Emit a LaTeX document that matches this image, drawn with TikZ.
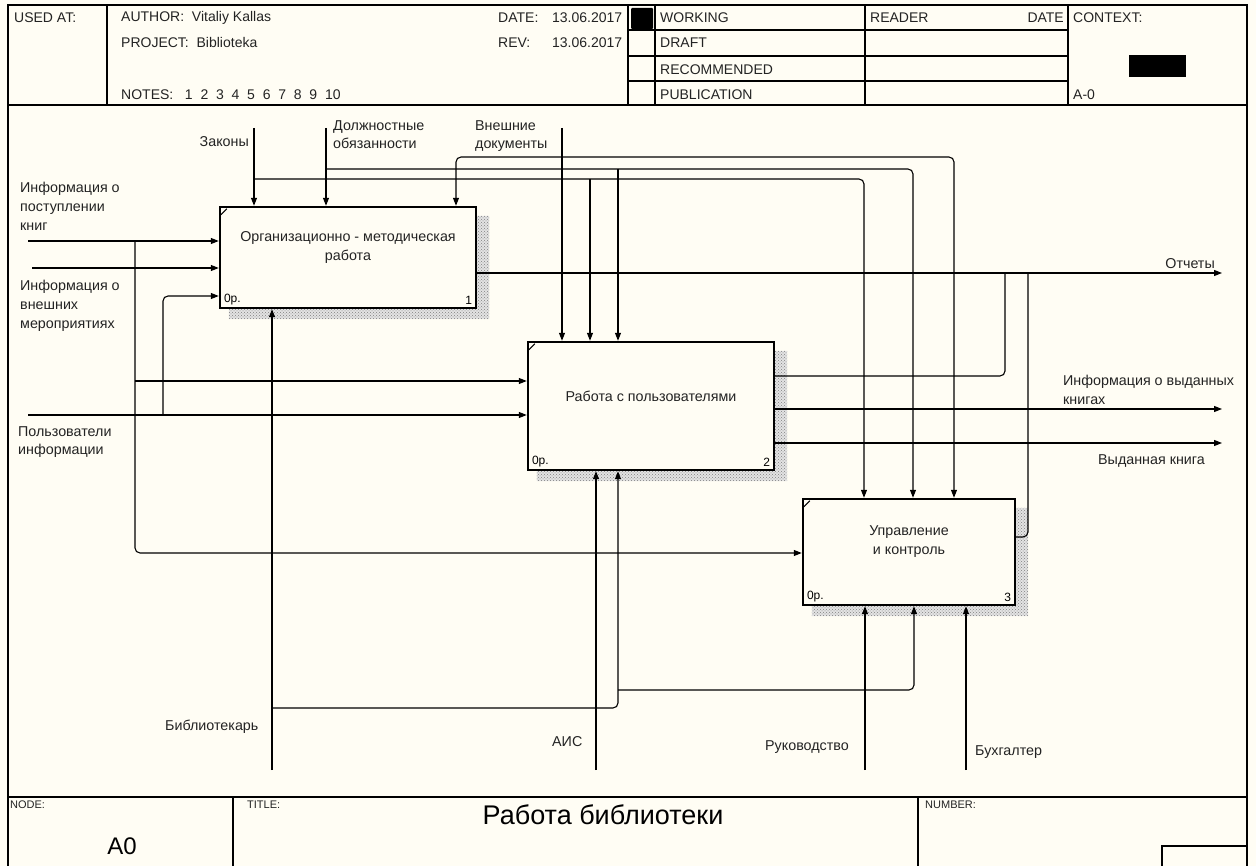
\documentclass[tikz,border=0pt]{standalone}
\usepackage{fontspec}
\setmainfont{Liberation Sans}
\usetikzlibrary{arrows.meta, positioning, patterns, backgrounds}
\definecolor{paper}{RGB}{255,253,244}
\definecolor{ink}{RGB}{35,35,35}

\begin{document}
\begin{tikzpicture}[
  x=1pt, y=-1pt,
  arr/.style={line width=1.1pt, -{Triangle[length=8pt, width=6pt]}},
  rc/.style={rounded corners=5pt},
  lbl/.style={font=\fontsize{14.3}{18.8}\selectfont, text=ink, inner sep=0pt, align=left},
  hdr/.style={font=\fontsize{14}{16}\selectfont, text=ink, inner sep=0pt, anchor=west},
  small/.style={font=\fontsize{11}{13}\selectfont, text=ink, inner sep=0pt, anchor=north west},
  frame/.style={line width=1.3pt},
  func/.style={draw, line width=2.4pt, fill=paper, inner sep=0pt},
  boxtext/.style={font=\fontsize{14.3}{19}\selectfont, text=ink, align=center, yshift=10pt},
  corner/.style={font=\fontsize{12}{14}\selectfont, inner sep=0pt}
]
\path[use as bounding box, clip] (0,0) rectangle (1256,866);
\begin{scope}[on background layer]
  \fill[paper] (0,0) rectangle (1256,866);
\end{scope}

% frame and header
\draw[frame] (8,880) -- (8,5) -- (1247,5) -- (1247,880);
\draw[frame] (8,105) -- (1247,105);
\foreach \x in {107,628,655,865,1068}
  \draw[frame] (\x,5) -- (\x,105);
\foreach \y in {30,56,81}
  \draw[frame] (628,\y) -- (1068,\y);
\fill[rounded corners=1pt] (631,8) rectangle (653,29);
\fill (1129,55) rectangle (1186,77);

\node[hdr] (usedat) at (14,18) {USED AT:};
\node[hdr] (author) at (121,18) {AUTHOR:\ \ Vitaliy Kallas};
\node[hdr] (project) at (121,43) {PROJECT:\ \ Biblioteka};
\node[hdr] (notes) at (121,95) {NOTES:\ \ \ 1\ \ 2\ \ 3\ \ 4\ \ 5\ \ 6\ \ 7\ \ 8\ \ 9\ \ 10};
\node[hdr] (date) at (498,18) {\makebox[124pt][l]{DATE:\hfill 13.06.2017}};
\node[hdr] (rev) at (498,43) {\makebox[124pt][l]{REV:\hfill 13.06.2017}};
\node[hdr] (working) at (660,18) {WORKING};
\node[hdr] (draft) at (660,43) {DRAFT};
\node[hdr] (recom) at (660,70) {RECOMMENDED};
\node[hdr] (public) at (660,95) {PUBLICATION};
\node[hdr] (reader) at (870,18) {READER};
\node[hdr, anchor=east] (rdate) at (1064,18) {DATE};
\node[hdr] (context) at (1073,18) {CONTEXT:};
\node[hdr] (aminus) at (1073,95) {A-0};

% footer
\draw[frame] (8,797) -- (1247,797);
\draw[frame] (233,797) -- (233,866);
\draw[frame] (918,797) -- (918,866);
\draw[frame] (1162,880) -- (1162,846) -- (1247,846);
\node[small] (nodelbl) at (10,801) {NODE:};
\node[small] (titlelbl) at (247,801) {TITLE:};
\node[small] (numlbl) at (925,801) {NUMBER:};
\node[font=\fontsize{24}{26}\selectfont, inner sep=0pt] (nodeno) at (122,846) {A0};
\node[font=\fontsize{27}{29}\selectfont, inner sep=0pt] (title) at (603,815) {Работа библиотеки};

% activities
\node[func, minimum width=256, minimum height=101,
  label={[boxtext]center:Организационно - методическая\\работа},
  label={[corner, anchor=south west, shift={(5pt,4pt)}]south west:0р.},
  label={[corner, anchor=south east, shift={(-5pt,4pt)}]south east:1}] (org) at (348,257.5) {};
\node[func, minimum width=246, minimum height=128,
  label={[boxtext]center:Работа с пользователями},
  label={[corner, anchor=south west, shift={(5pt,4pt)}]south west:0р.},
  label={[corner, anchor=south east, shift={(-5pt,4pt)}]south east:2}] (users) at (651,406) {};
\node[func, minimum width=212, minimum height=106,
  label={[boxtext]center:Управление\\и контроль},
  label={[corner, anchor=south west, shift={(5pt,4pt)}]south west:0р.},
  label={[corner, anchor=south east, shift={(-5pt,4pt)}]south east:3}] (ctrl) at (909,552) {};

\begin{scope}[on background layer]
\foreach \b in {org,users,ctrl}
  \fill[preaction={fill=gray!22}, pattern=crosshatch dots, pattern color=gray]
    ([yshift=-10pt]\b.north east) -- ([shift={(12pt,-10pt)}]\b.north east)
    -- ([shift={(12pt,-10pt)}]\b.south east) -- ([shift={(10pt,-10pt)}]\b.south west)
    -- ([xshift=10pt]\b.south west) -- (\b.south east) -- cycle;
\end{scope}
\foreach \b in {org,users,ctrl}
  \draw[line width=1.2pt] ([shift={(2pt,-9pt)}]\b.north west) -- ++(6pt,6pt);

% free ends, junctions and levels
\coordinate (zak) at (254,128);
\coordinate (dol) at (326,128);
\coordinate (vne) at (562,128);
\coordinate (busA) at (0,157);
\coordinate (busB) at (0,169);
\coordinate (busC) at (0,179);
\coordinate (o-c3) at (456,0);
\coordinate (u-c2) at (590,0);
\coordinate (u-c3) at (618,0);
\coordinate (c-c1) at (864,0);
\coordinate (c-c2) at (913,0);
\coordinate (c-c3) at (954,0);
\coordinate (inPost) at (28,241);
\coordinate (inVn) at (32,268);
\coordinate (inUsr) at (28,415);
\coordinate (jPost) at (135,241);
\coordinate (jUsr) at (163,415);
\coordinate (o-in3) at (0,296);
\coordinate (u-in1) at (0,381);
\coordinate (c-in) at (0,553);
\coordinate (outRep) at (1222,273);
\coordinate (outInfo) at (1222,409);
\coordinate (outBook) at (1222,443);
\coordinate (u-o1) at (0,376);
\coordinate (c-o) at (0,537);
\coordinate (j-rep1) at (1005,0);
\coordinate (j-rep2) at (1028,0);
\coordinate (bibl) at (272,770);
\coordinate (ais) at (596,770);
\coordinate (ruk) at (865,770);
\coordinate (buh) at (966,770);
\coordinate (busD) at (0,708);
\coordinate (busE) at (0,690);
\coordinate (u-m2) at (618,0);
\coordinate (c-m2) at (914,0);

% controls
\draw[arr] (zak) -- (zak |- org.north);
\draw[arr] (dol) -- (dol |- org.north);
\draw[arr] (vne) -- (vne |- users.north);
\draw[arr, rc] (vne |- busA) -| (o-c3 |- org.north);
\draw[arr, rc] (vne |- busA) -| (c-c3 |- ctrl.north);
\draw[arr, rc] (dol |- busB) -| (c-c2 |- ctrl.north);
\draw[arr] (u-c3 |- busB) -- (u-c3 |- users.north);
\draw[arr, rc] (zak |- busC) -| (c-c1 |- ctrl.north);
\draw[arr] (u-c2 |- busC) -- (u-c2 |- users.north);

% inputs
\draw[arr] (inPost) -- (inPost -| org.west);
\draw[arr] (inVn) -- (inVn -| org.west);
\draw[arr] (inUsr) -- (inUsr -| users.west);
\draw[arr, rc] (jUsr) |- (o-in3 -| org.west);
\draw[arr, rc] (jPost) |- (c-in -| ctrl.west);
\draw[arr] (jPost |- u-in1) -- (u-in1 -| users.west);

% outputs
\draw[arr] (outRep -| org.east) -- (outRep);
\draw[arr] (outInfo -| users.east) -- (outInfo);
\draw[arr] (outBook -| users.east) -- (outBook);
\draw[line width=1.1pt, rc] (u-o1 -| users.east) -| (j-rep1 |- outRep);
\draw[line width=1.1pt, rc] (c-o -| ctrl.east) -| (j-rep2 |- outRep);

% mechanisms
\draw[arr] (bibl) -- (bibl |- org.south);
\draw[arr] (ais) -- (ais |- users.south);
\draw[arr] (ruk) -- (ruk |- ctrl.south);
\draw[arr] (buh) -- (buh |- ctrl.south);
\draw[arr, rc] (bibl |- busD) -| (u-m2 |- users.south);
\draw[arr, rc] (u-m2 |- busE) -| (c-m2 |- ctrl.south);

% arrow labels
\node[lbl, anchor=east] (lZak) at (249,142) {Законы};
\node[lbl, anchor=north west] (lDol) at (333,120) {Должностные\\обязанности};
\node[lbl, anchor=north west] (lVne) at (475,120) {Внешние\\документы};
\node[lbl, anchor=north west] (lPost) at (20,182) {Информация о\\поступлении\\книг};
\node[lbl, anchor=north west] (lVn) at (20,280) {Информация о\\внешних\\мероприятиях};
\node[lbl, anchor=north west] (lUsr) at (18,426) {Пользователи\\информации};
\node[lbl, anchor=east] (lRep) at (1215,264) {Отчеты};
\node[lbl, anchor=north west] (lInfo) at (1063,375) {Информация о выданных\\книгах};
\node[lbl, anchor=west] (lBook) at (1098,461) {Выданная книга};
\node[lbl, anchor=west] (lBibl) at (165,727) {Библиотекарь};
\node[lbl, anchor=west] (lAis) at (552,742) {АИС};
\node[lbl, anchor=west] (lRuk) at (765,747) {Руководство};
\node[lbl, anchor=west] (lBuh) at (975,752) {Бухгалтер};
\end{tikzpicture}
\end{document}
